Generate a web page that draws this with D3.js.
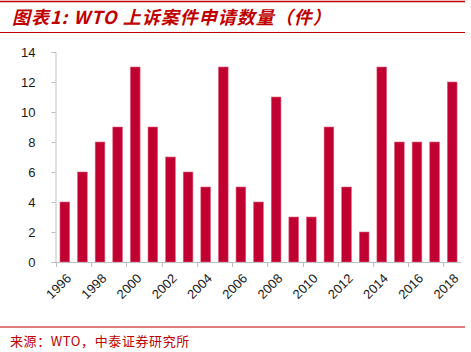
<!DOCTYPE html>
<html>
<head>
<meta charset="utf-8">
<script src="https://cdn.jsdelivr.net/npm/d3@7"></script>
<style>
  body { margin: 0; background: #fff; }
  svg { display: block; }
</style>
</head>
<body>
<svg id="chart" width="471" height="352"></svg>
<script>
// data
const years = [1996, 1997, 1998, 1999, 2000, 2001, 2002, 2003, 2004, 2005, 2006, 2007,
               2008, 2009, 2010, 2011, 2012, 2013, 2014, 2015, 2016, 2017, 2018];
const cases = [4, 6, 8, 9, 13, 9, 7, 6, 5, 13, 5, 4, 11, 3, 3, 9, 5, 2, 13, 8, 8, 8, 12];
const yTicks = [0, 2, 4, 6, 8, 10, 12, 14];
const titleText = "图表1: WTO 上诉案件申请数量（件）";
const sourceText = "来源：WTO，中泰证券研究所";

const RED = "#c00000";
const svg = d3.select("#chart");

const margin = { top: 52, left: 56 };
const plotBottom = 262;

// frame lines
svg.append("line").attr("x1", 0).attr("x2", 465).attr("y1", 1.5).attr("y2", 1.5)
  .attr("stroke", RED).attr("stroke-width", 1.5);
svg.append("line").attr("x1", 0).attr("x2", 465).attr("y1", 32.5).attr("y2", 32.5)
  .attr("stroke", RED).attr("stroke-width", 1);
svg.append("line").attr("x1", 0).attr("x2", 465).attr("y1", 327).attr("y2", 327)
  .attr("stroke", RED).attr("stroke-width", 1);

svg.append("text")
  .attr("x", 12).attr("y", 24)
  .attr("fill", RED)
  .attr("font-family", "'Noto Sans CJK SC', sans-serif")
  .attr("font-size", 18).attr("font-weight", "bold").attr("font-style", "italic")
  .attr("letter-spacing", 1)
  .text(titleText);

svg.append("text")
  .attr("x", 10).attr("y", 346)
  .attr("fill", RED)
  .attr("font-family", "'Noto Sans CJK SC', monospace")
  .attr("font-size", 13)
  .attr("letter-spacing", 0.6)
  .text(sourceText);

// scales
const x = d3.scaleBand()
  .domain(years)
  .range([56, 461])
  .padding(0);

const y = d3.scaleLinear()
  .domain([0, 14])
  .range([plotBottom, margin.top]);

const barW = x.bandwidth() * 0.55;

// bars
svg.append("g")
  .selectAll("rect")
  .data(years.map((yr, i) => ({ yr, v: cases[i] })))
  .join("rect")
  .attr("x", d => x(d.yr) + (x.bandwidth() - barW) / 2)
  .attr("y", d => y(d.v))
  .attr("width", barW)
  .attr("height", d => plotBottom - y(d.v))
  .attr("fill", "#c00030")
  .attr("stroke", "#e2607c")
  .attr("stroke-width", 0.6);

// y axis
const gy = svg.append("g")
  .attr("transform", `translate(55.5,0)`)
  .call(d3.axisLeft(y).tickValues(yTicks).tickSize(4).tickPadding(16));
gy.select(".domain").attr("stroke", "#bfbfbf");
gy.selectAll(".tick line").attr("stroke", "#bfbfbf");
gy.selectAll(".tick text")
  .attr("fill", "#1a1a1a")
  .attr("font-family", "Arial, 'Liberation Sans', sans-serif")
  .attr("font-size", 13);

// x axis line
svg.append("line")
  .attr("x1", 55.5).attr("x2", 461).attr("y1", plotBottom + 0.5).attr("y2", plotBottom + 0.5)
  .attr("stroke", "#bfbfbf");

// x ticks at every other category boundary
const tickYears = years.filter((d, i) => i % 2 === 0);
svg.append("g")
  .selectAll("line")
  .data(tickYears)
  .join("line")
  .attr("x1", d => Math.round(x(d)) + 0.5)
  .attr("x2", d => Math.round(x(d)) + 0.5)
  .attr("y1", plotBottom)
  .attr("y2", plotBottom + 5)
  .attr("stroke", "#bfbfbf");

// x labels rotated
svg.append("g")
  .selectAll("text")
  .data(tickYears)
  .join("text")
  .attr("transform", d => `translate(${x(d) + x.bandwidth() / 2 + 4},${plotBottom + 14}) rotate(-45)`)
  .attr("text-anchor", "end")
  .attr("dy", "0.35em")
  .attr("fill", "#1a1a1a")
  .attr("font-family", "Arial, 'Liberation Sans', sans-serif")
  .attr("font-size", 13)
  .text(d => d);
</script>
</body>
</html>
